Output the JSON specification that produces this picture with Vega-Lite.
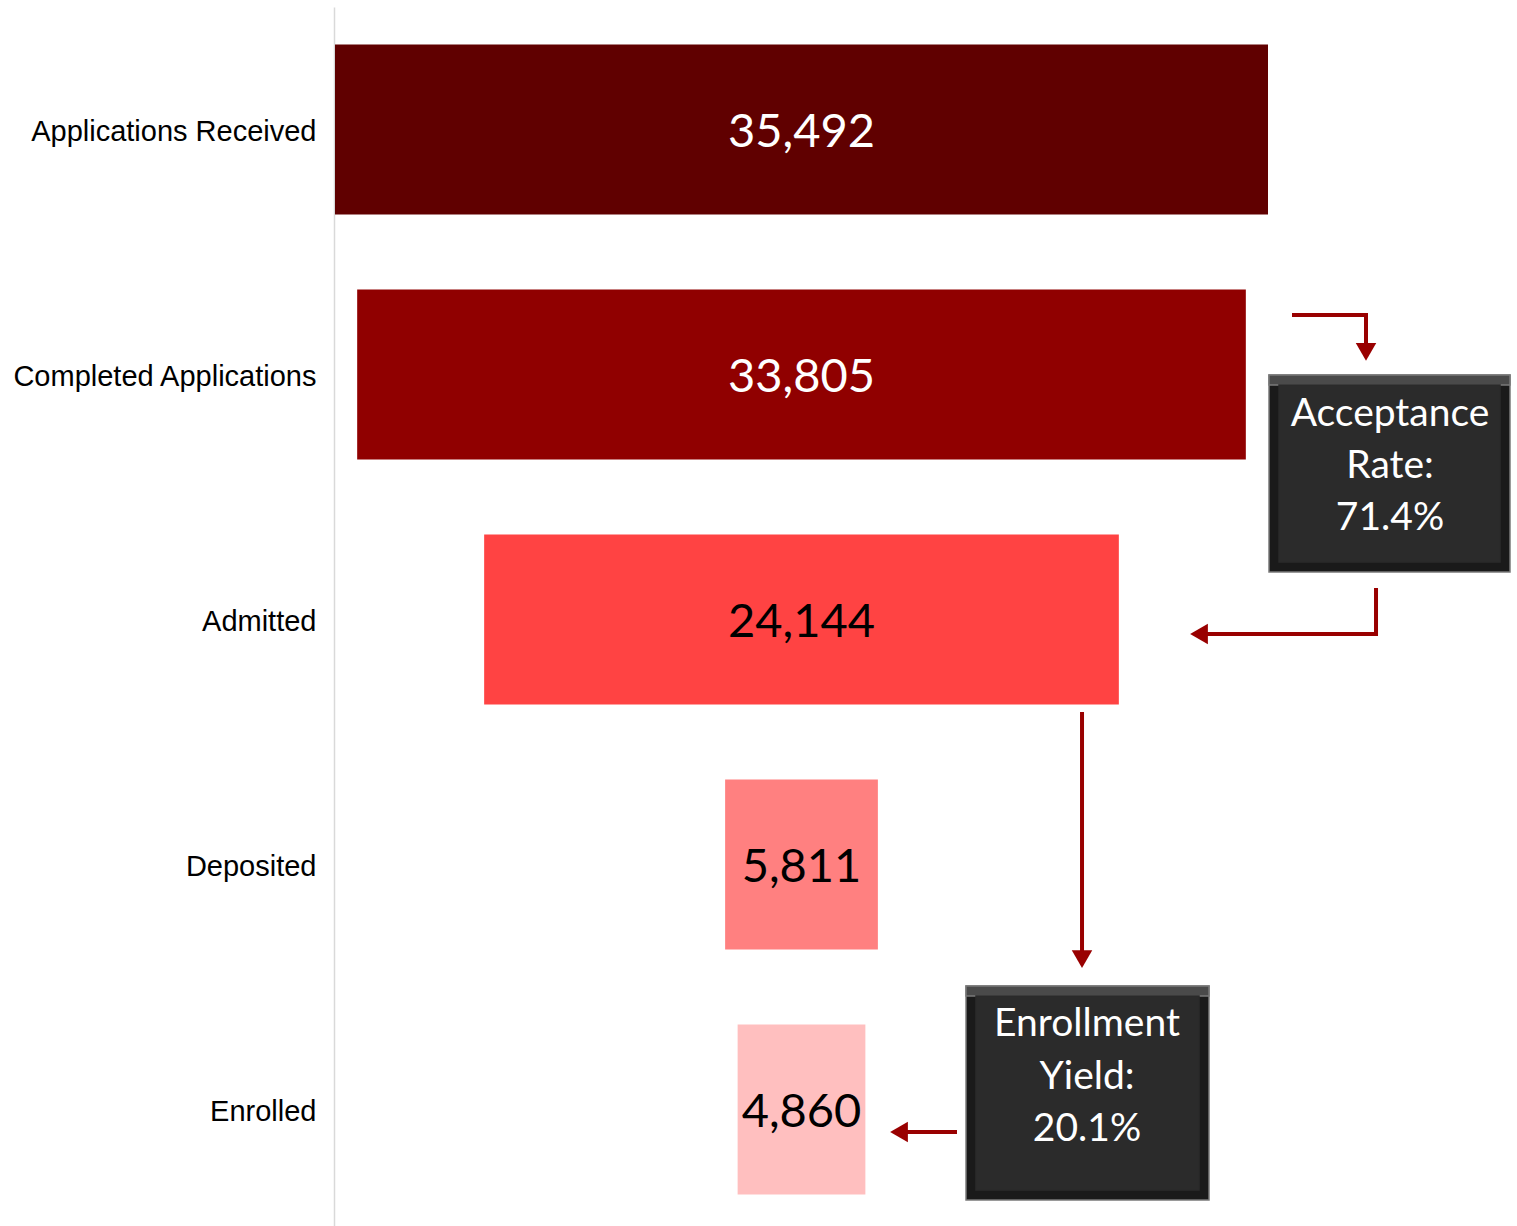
{
  "$schema": "https://vega.github.io/schema/vega-lite/v6.json",
  "description": "Admissions funnel with acceptance rate and enrollment yield callouts.",
  "width": 1183,
  "height": 1219,
  "autosize": "none",
  "padding": {"left": 334, "top": 7, "right": 0, "bottom": 0},
  "config": {"view": {"stroke": null}},
  "datasets": {
    "funnel": [
      {"stage": "Applications Received", "value": 35492, "y": 0},
      {"stage": "Completed Applications", "value": 33805, "y": 1},
      {"stage": "Admitted", "value": 24144, "y": 2},
      {"stage": "Deposited", "value": 5811, "y": 3},
      {"stage": "Enrolled", "value": 4860, "y": 4}
    ],
    "arrows": [
      {"arrow": "a1", "ord": 1, "x": 36405, "y": 0.757},
      {"arrow": "a1", "ord": 2, "x": 39220, "y": 0.757},
      {"arrow": "a1", "ord": 3, "x": 39220, "y": 0.9},
      {"arrow": "a2", "ord": 1, "x": 39601, "y": 1.871},
      {"arrow": "a2", "ord": 2, "x": 39601, "y": 2.059},
      {"arrow": "a2", "ord": 3, "x": 32905, "y": 2.059},
      {"arrow": "a3", "ord": 1, "x": 28417, "y": 2.378},
      {"arrow": "a3", "ord": 2, "x": 28417, "y": 3.369},
      {"arrow": "a4", "ord": 1, "x": 23661, "y": 4.092},
      {"arrow": "a4", "ord": 2, "x": 21493, "y": 4.092}
    ],
    "heads": [
      {"arrow": "a1", "dir": "down", "x": 39220, "y": 0.908},
      {"arrow": "a2", "dir": "left", "x": 32867, "y": 2.059},
      {"arrow": "a3", "dir": "down", "x": 28417, "y": 3.386},
      {"arrow": "a4", "dir": "left", "x": 21455, "y": 4.092}
    ],
    "boxes": [
      {"box": "acceptance", "part": "outer", "x": 35530, "x2": 44698, "y": 1.002, "y2": 1.806},
      {"box": "acceptance", "part": "top", "x": 35530, "x2": 44698, "y": 1.002, "y2": 1.043},
      {"box": "acceptance", "part": "inner", "x": 35911, "x2": 44318, "y": 1.043, "y2": 1.765},
      {"box": "yield", "part": "outer", "x": 24004, "x2": 33248, "y": 3.496, "y2": 4.369},
      {"box": "yield", "part": "top", "x": 24004, "x2": 33248, "y": 3.496, "y2": 3.537},
      {"box": "yield", "part": "inner", "x": 24384, "x2": 32867, "y": 3.537, "y2": 4.329}
    ],
    "boxtext": [
      {"box": "acceptance", "text": "Acceptance", "x": 40133, "y": 1.153},
      {"box": "acceptance", "text": "Rate:", "x": 40133, "y": 1.365},
      {"box": "acceptance", "text": "71.4%", "x": 40133, "y": 1.578},
      {"box": "yield", "text": "Enrollment", "x": 28607, "y": 3.643},
      {"box": "yield", "text": "Yield:", "x": 28607, "y": 3.859},
      {"box": "yield", "text": "20.1%", "x": 28607, "y": 4.071}
    ]
  },
  "encoding": {
    "y": {
      "field": "y",
      "type": "quantitative",
      "scale": {"domain": [-0.5, 4.4755], "reverse": true, "nice": false, "zero": false, "padding": 0},
      "axis": {
        "title": null,
        "values": [0, 1, 2, 3, 4],
        "labelExpr": "['Applications Received','Completed Applications','Admitted','Deposited','Enrolled'][datum.value]",
        "grid": false,
        "ticks": false,
        "domainColor": "#d9d9d9",
        "domainWidth": 1.5,
        "labelFont": "Liberation Sans",
        "labelFontSize": 29,
        "labelColor": "#000000",
        "labelLimit": 0,
        "labelOffset": 2,
        "labelPadding": 18
      }
    }
  },
  "layer": [
    {
      "data": {"name": "funnel"},
      "mark": {"type": "bar", "orient": "horizontal", "size": 170},
      "encoding": {
        "x": {
          "field": "value",
          "type": "quantitative",
          "stack": "center",
          "scale": {"domain": [-38, 44964], "nice": false, "zero": false, "padding": 0},
          "axis": null
        },
        "color": {
          "field": "stage",
          "type": "nominal",
          "scale": {
            "domain": ["Applications Received", "Completed Applications", "Admitted", "Deposited", "Enrolled"],
            "range": ["#600000", "#900000", "#FF4343", "#FF8080", "#FFBFBF"]
          },
          "legend": null
        }
      }
    },
    {
      "data": {"name": "funnel"},
      "mark": {"type": "text", "font": "Lato", "fontSize": 47, "baseline": "middle", "align": "center", "dy": 3},
      "encoding": {
        "x": {"datum": 17746, "type": "quantitative"},
        "text": {"field": "value", "type": "quantitative", "format": ","},
        "color": {
          "condition": {"test": "datum.y < 2", "value": "#ffffff"},
          "value": "#000000"
        }
      }
    },
    {
      "data": {"name": "arrows"},
      "mark": {"type": "line", "color": "#990000", "strokeWidth": 4, "strokeCap": "butt", "strokeJoin": "miter"},
      "encoding": {
        "x": {"field": "x", "type": "quantitative"},
        "detail": {"field": "arrow"},
        "order": {"field": "ord"}
      }
    },
    {
      "data": {"name": "heads"},
      "mark": {"type": "point", "filled": true, "color": "#990000", "size": 420, "opacity": 1},
      "encoding": {
        "x": {"field": "x", "type": "quantitative"},
        "shape": {
          "field": "dir",
          "type": "nominal",
          "scale": {"domain": ["down", "left"], "range": ["triangle-down", "triangle-left"]},
          "legend": null
        }
      }
    },
    {
      "data": {"name": "boxes"},
      "mark": {"type": "rect"},
      "encoding": {
        "x": {"field": "x", "type": "quantitative"},
        "x2": {"field": "x2"},
        "y2": {"field": "y2"},
        "fill": {
          "field": "part",
          "type": "nominal",
          "scale": {"domain": ["outer", "top", "inner"], "range": ["#1a1a1a", "#4a4a4a", "#2b2b2b"]},
          "legend": null
        },
        "stroke": {
          "field": "part",
          "type": "nominal",
          "scale": {"domain": ["outer", "top", "inner"], "range": ["#7a7a7a", "#7a7a7a", "#2b2b2b"]},
          "legend": null
        },
        "strokeWidth": {"value": 1.5}
      }
    },
    {
      "data": {"name": "boxtext"},
      "mark": {"type": "text", "font": "Lato", "fontSize": 39, "color": "#ffffff", "baseline": "middle", "align": "center", "dy": 2},
      "encoding": {
        "x": {"field": "x", "type": "quantitative"},
        "text": {"field": "text"}
      }
    }
  ]
}
